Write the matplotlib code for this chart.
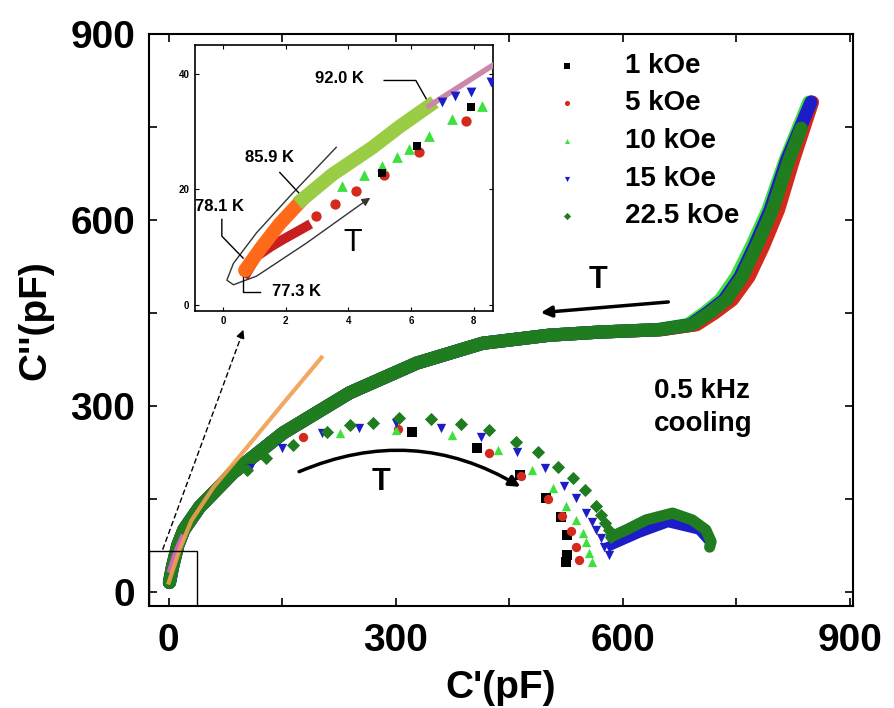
import matplotlib.pyplot as plt

plt.rcParams['font.family'] = ['Liberation Sans', 'DejaVu Sans']

fields = ['1 kOe', '5 kOe', '10 kOe', '15 kOe', '22.5 kOe']
colors = ['black', '#d42a1e', '#3ee03e', '#1c1cc8', '#1f7d1f']
markers = ['s', 'o', '^', 'v', 'D']

# upper branch (dense band) for each field
band_y = [15, 40, 75, 100, 137, 192, 256, 321, 369, 401, 414, 419, 423, 431, 450, 471, 508, 557, 616, 697, 790]
band_x = {
    '1 kOe':    [1, 5, 12, 20, 41, 85, 151, 239, 328, 415, 503, 569, 651, 696, 719, 742, 764, 783, 803, 823, 849],
    '5 kOe':    [1, 5, 12, 20, 41, 85, 151, 239, 328, 415, 503, 569, 652, 698, 722, 745, 767, 786, 806, 826, 851],
    '10 kOe':   [1, 5, 12, 20, 41, 85, 151, 239, 328, 415, 503, 569, 645, 686, 708, 729, 750, 770, 792, 815, 846],
    '15 kOe':   [1, 5, 12, 20, 41, 85, 151, 239, 328, 415, 503, 569, 648, 690, 712, 734, 755, 774, 795, 817, 849],
}
band_x_22 = [1, 5, 12, 20, 41, 85, 151, 239, 328, 415, 503, 569, 649, 692, 715, 737, 758, 777, 798, 820, 836]
band_y_22 = [15, 40, 75, 100, 137, 192, 256, 321, 369, 401, 414, 419, 423, 431, 450, 471, 508, 557, 616, 697, 748]

# lower arcs
arc_x = {
    '1 kOe':    [322, 407, 464, 499, 519, 527, 527, 525],
    '5 kOe':    [177, 303, 424, 466, 501, 520, 532, 539, 543],
    '10 kOe':   [226, 301, 374, 435, 480, 508, 525, 539, 547, 552, 556, 560],
    '15 kOe':   [107, 150, 203, 252, 300, 360, 413, 461, 497, 523, 539, 552, 560, 565, 571, 576, 582],
    '22.5 kOe': [103, 129, 164, 209, 239, 270, 305, 347, 387, 424, 459, 488, 514, 534, 550, 565, 572, 577, 582, 585],
}
arc_y = {
    '1 kOe':    [258, 232, 189, 152, 121, 92, 60, 48],
    '5 kOe':    [250, 262, 224, 187, 150, 122, 98, 73, 52],
    '10 kOe':   [256, 261, 253, 229, 197, 168, 138, 116, 95, 80, 63, 48],
    '15 kOe':   [200, 232, 256, 264, 272, 264, 250, 226, 200, 170, 152, 127, 113, 100, 87, 73, 60],
    '22.5 kOe': [197, 216, 237, 258, 269, 273, 281, 279, 271, 261, 242, 226, 202, 183, 165, 138, 124, 111, 100, 89],
}
# second small arc (15 and 22.5 kOe)
arc2_x_15 = [585, 622, 660, 701, 712]
arc2_y_15 = [75, 95, 112, 100, 85]
arc2_x_22 = [585, 605, 631, 666, 692, 710, 717, 715]
arc2_y_22 = [89, 100, 116, 127, 116, 100, 81, 72]

orange_x = [0, 15, 30, 60, 100, 150, 202]
orange_y = [15, 70, 115, 170, 228, 302, 378]
pink_x = [2, 8, 13, 18]
pink_y = [35, 58, 74, 88]

# inset data
in_orange_x = [0.7, 1.2, 1.8, 2.54]
in_orange_y = [6.0, 9.8, 14.0, 18.3]
in_green_x = [2.54, 3.5, 4.76, 5.6, 6.57]
in_green_y = [18.3, 22.6, 27.2, 30.7, 34.4]
in_pink_x = [6.57, 7.5, 8.6]
in_pink_y = [34.4, 37.6, 41.4]
in_redband_x = [0.75, 1.07, 1.5, 1.9, 2.3, 2.66]
in_redband_y = [5.5, 8.4, 10.0, 11.3, 12.5, 13.6]
in_red_x = [2.98, 3.56, 4.25, 5.14, 6.25, 7.75]
in_red_y = [15.3, 17.4, 19.7, 22.4, 26.4, 31.8]
in_tri_x = [3.8, 4.5, 5.08, 5.56, 5.94, 6.57, 7.3, 8.25]
in_tri_y = [20.5, 22.5, 24.0, 25.5, 27.0, 29.2, 32.2, 34.4]
in_blk_x = [5.08, 6.19, 7.9]
in_blk_y = [22.8, 27.5, 34.2]
in_blue_x = [7.0, 7.4, 7.9, 8.54]
in_blue_y = [35.1, 36.2, 36.8, 38.6]

fig = plt.figure(figsize=(8.94, 7.08), dpi=100)
ax = fig.add_axes([0.1667, 0.144, 0.787, 0.808])

for f, c in zip(fields[:4], colors[:4]):
    ax.plot(band_x[f], band_y, color=c, lw=9.5, solid_capstyle='round', zorder=2)
ax.plot(band_x_22, band_y_22, color=colors[4], lw=9.5, solid_capstyle='round', zorder=2)
ax.plot(pink_x, pink_y, color='#cc66bb', lw=4, zorder=3)
ax.plot(orange_x, orange_y, color='#f0a050', lw=3, alpha=0.9, zorder=3)

handles = []
for f, c, m in zip(fields, colors, markers):
    h = ax.scatter(arc_x[f], arc_y[f], marker=m, color=c, s=45, zorder=4, linewidths=0)
    handles.append(h)
ax.plot(arc2_x_15, arc2_y_15, color=colors[3], lw=7, zorder=3)
ax.plot(arc2_x_22, arc2_y_22, color=colors[4], lw=8, solid_capstyle='round', zorder=4)

ax.set_xlim(-26, 904)
ax.set_ylim(-23, 900)
ax.set_xticks([0, 300, 600, 900])
ax.set_yticks([0, 300, 600, 900])
ax.set_xticks([150, 450, 750], minor=True)
ax.set_yticks([150, 450, 750], minor=True)
ax.tick_params(which='both', direction='in', top=True, right=True, length=6, width=1.2)
for lab in ax.get_xticklabels() + ax.get_yticklabels():
    lab.set_fontsize(28)
    lab.set_fontweight('bold')
ax.tick_params(axis='x', pad=12)
ax.tick_params(axis='y', pad=10)
for s in ax.spines.values():
    s.set_linewidth(1.5)
ax.set_xlabel("C'(pF)", fontsize=28, fontweight='bold', labelpad=8)
ax.set_ylabel("C''(pF)", fontsize=28, fontweight='bold', labelpad=12)

# zoom box and dashed arrow
ax.add_patch(plt.Rectangle((-26, -23), 63, 89, fill=False, lw=1, color='black', zorder=5))
ax.plot([-8, 97], [68, 416], ls=(0, (4, 2)), color='black', lw=1)
ax.annotate('', xy=(100, 427), xytext=(96, 414),
            arrowprops=dict(arrowstyle='-|>', color='black', lw=1, mutation_scale=12))

# T arrows
ax.annotate('', xy=(488, 450), xytext=(664, 468),
            arrowprops=dict(arrowstyle='-|>', color='black', lw=2.5, mutation_scale=16))
ax.text(568, 503, 'T', fontsize=22, fontweight='bold', ha='center', va='center')
ax.annotate('', xy=(468, 167), xytext=(169, 192),
            arrowprops=dict(arrowstyle='-|>', color='black', lw=2.5, mutation_scale=16,
                            connectionstyle='arc3,rad=-0.26'))
ax.text(281, 177, 'T', fontsize=22, fontweight='bold', ha='center', va='center')

ax.text(641, 345, '0.5 kHz\ncooling', fontsize=20, fontweight='bold', ha='left', va='top',
        linespacing=1.35)

leg = ax.legend(handles, fields, loc='upper left', bbox_to_anchor=(0.603, 0.945),
                bbox_transform=fig.transFigure, frameon=False, markerscale=0.55,
                handlelength=1.0, handletextpad=1.6, labelspacing=0.42, borderpad=0,
                prop={'size': 20, 'weight': 'bold'})

# inset
ins = fig.add_axes([0.218, 0.561, 0.333, 0.376])
ins.plot(in_redband_x, in_redband_y, color='#c81e1e', lw=7, zorder=2)
ins.plot(in_orange_x, in_orange_y, color='#ff6a1a', lw=10, solid_capstyle='round', zorder=3)
ins.plot(in_green_x, in_green_y, color='#9acd45', lw=10, zorder=3)
ins.plot(in_pink_x, in_pink_y, color='#cc88aa', lw=4, zorder=3)
ins.scatter(in_red_x, in_red_y, marker='o', color=colors[1], s=55, linewidths=0, zorder=3)
ins.scatter(in_tri_x, in_tri_y, marker='^', color=colors[2], s=60, linewidths=0, zorder=3)
ins.scatter(in_blk_x, in_blk_y, marker='s', color='black', s=30, linewidths=0, zorder=3)
ins.scatter(in_blue_x, in_blue_y, marker='v', color=colors[3], s=50, linewidths=0, zorder=3)

# hairpin T arrow
loop_x = [3.61, 2.13, 1.07, 0.33, 0.12, 0.33, 1.07, 2.66, 4.6]
loop_y = [27.25, 18.8, 12.5, 7.2, 4.3, 3.5, 5.0, 10.7, 18.2]
ins.plot(loop_x, loop_y, color='#333333', lw=1)
ins.annotate('', xy=(4.77, 18.8), xytext=(4.5, 17.8),
             arrowprops=dict(arrowstyle='-|>', color='#333333', lw=1, mutation_scale=12))
ins.text(4.13, 10.8, 'T', fontsize=22, ha='center', va='center')

ins.plot([5.14, 6.15, 6.57], [38.8, 38.8, 34.8], color='black', lw=1)
ins.text(3.71, 39.1, '92.0 K', fontsize=12, fontweight='bold', ha='center', va='center')
ins.plot([1.81, 2.6], [22.9, 18.3], color='black', lw=1)
ins.text(1.49, 25.5, '85.9 K', fontsize=12, fontweight='bold', ha='center', va='center')
ins.plot([-0.04, -0.04, 0.64], [14.8, 11.9, 8.1], color='black', lw=1)
ins.text(-0.1, 17.1, '78.1 K', fontsize=12, fontweight='bold', ha='center', va='center')
ins.plot([1.17, 0.64, 0.64], [2.3, 2.3, 6.1], color='black', lw=1)
ins.text(2.34, 2.3, '77.3 K', fontsize=12, fontweight='bold', ha='center', va='center')

ins.set_xlim(-0.9, 8.6)
ins.set_ylim(-1, 45)
ins.set_xticks([0, 2, 4, 6, 8])
ins.set_yticks([0, 20, 40])
ins.tick_params(direction='in', top=True, right=True, length=3, width=0.8, labelsize=7, pad=4)
for lab in ins.get_xticklabels() + ins.get_yticklabels():
    lab.set_fontweight('bold')
for s in ins.spines.values():
    s.set_linewidth(1.2)

plt.savefig('out.png', dpi=100)
